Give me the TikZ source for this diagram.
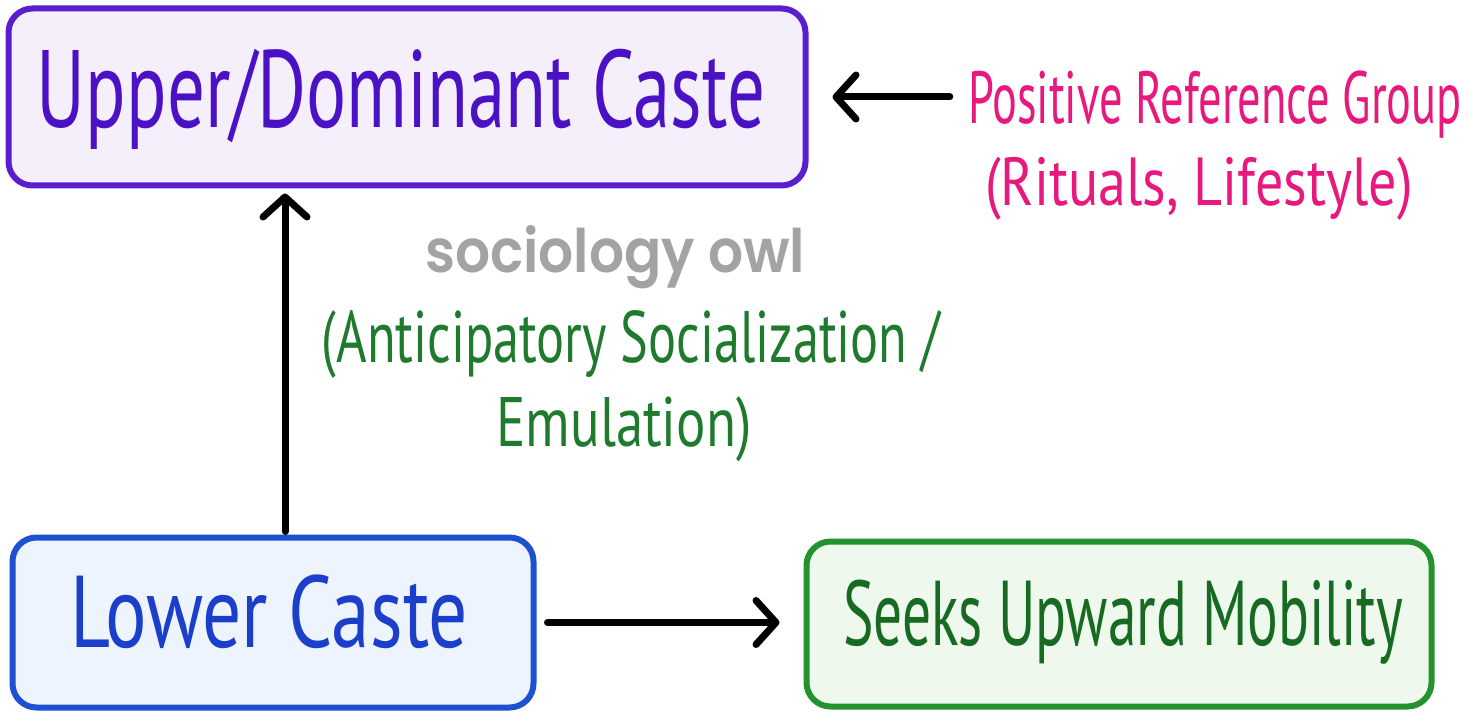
\documentclass[tikz,border=0pt]{standalone}
\usepackage{fontspec}
\usepackage{graphicx}
\setmainfont{PT Sans}
\newfontfamily\owlfont{Poppins}[UprightFont=* SemiBold]
\usetikzlibrary{arrows.meta}
\definecolor{upStroke}{HTML}{5A1ECF}
\definecolor{upFill}{HTML}{F4EFFB}
\definecolor{upText}{HTML}{4A12C4}
\definecolor{loStroke}{HTML}{1E50D2}
\definecolor{loFill}{HTML}{EEF4FD}
\definecolor{loText}{HTML}{1B3FCB}
\definecolor{skStroke}{HTML}{23922F}
\definecolor{skFill}{HTML}{EFF8EC}
\definecolor{skText}{HTML}{176A22}
\definecolor{pinkText}{HTML}{E8197C}
\definecolor{lblGreen}{HTML}{1F7A2E}
\definecolor{owlGray}{HTML}{A3A3A3}
\newcommand{\fitw}[3]{\resizebox{#1pt}{\height}{\fontsize{#2}{#2}\selectfont #3}}
\begin{document}
\begin{tikzpicture}[x=1pt,y=-1pt,
  box/.style={draw, rounded corners=24pt, line width=6pt, inner sep=0pt},
  arr/.style={line width=7pt, line cap=round, -{Straight Barb[length=20pt,width=44pt,round]}}]
\useasboundingbox[fill=white] (0,0) rectangle (1466,714);
\node[box, draw=upStroke, fill=upFill, minimum width=797pt, minimum height=177pt] (upper) at (407,97) {};
\node[text=upText, anchor=base] (uppert) at (401,128) {\fitw{728}{110}{Upper/Dominant Caste}};
\node[box, draw=loStroke, fill=loFill, minimum width=521pt, minimum height=170pt] (lower) at (273,622.5) {};
\node[text=loText, anchor=base] (lowert) at (269,647) {\fitw{398}{102}{Lower Caste}};
\node[box, draw=skStroke, fill=skFill, minimum width=625pt, minimum height=165pt] (seeks) at (1119,624) {};
\node[text=skText, anchor=base] (seekst) at (1123,645) {\fitw{560}{92}{Seeks Upward Mobility}};
\node[text=pinkText, anchor=base, inner sep=0pt] (pos1) at (1215,124) {\fitw{494}{74}{Positive Reference Group}};
\node[text=pinkText, anchor=base, inner sep=0pt] (pos2) at (1199,205) {\fitw{428}{68}{(Rituals, Lifestyle)}};
\node[text=owlGray, anchor=base, inner sep=0pt] (owl) at (615,272) {\resizebox{380pt}{\height}{\fontsize{60}{60}\owlfont sociology owl}};
\node[text=lblGreen, anchor=base, inner sep=0pt] (lbl1) at (631,362) {\fitw{618}{73}{(Anticipatory Socialization /}};
\node[text=lblGreen, anchor=base, inner sep=0pt] (lbl2) at (624,446) {\fitw{255}{70}{Emulation)}};
\coordinate (vx) at (285,0);
\draw[arr, shorten <=3pt, shorten >=5pt] (lower.north -| vx) -- (upper.south -| vx);
\draw[arr, shorten <=18pt, shorten >=24pt] (pos1.west |- upper.east) -- (upper.east);
\draw[arr, shorten <=11pt, shorten >=24pt] (lower.east) -- (lower.east -| seeks.west);
\end{tikzpicture}
\end{document}
